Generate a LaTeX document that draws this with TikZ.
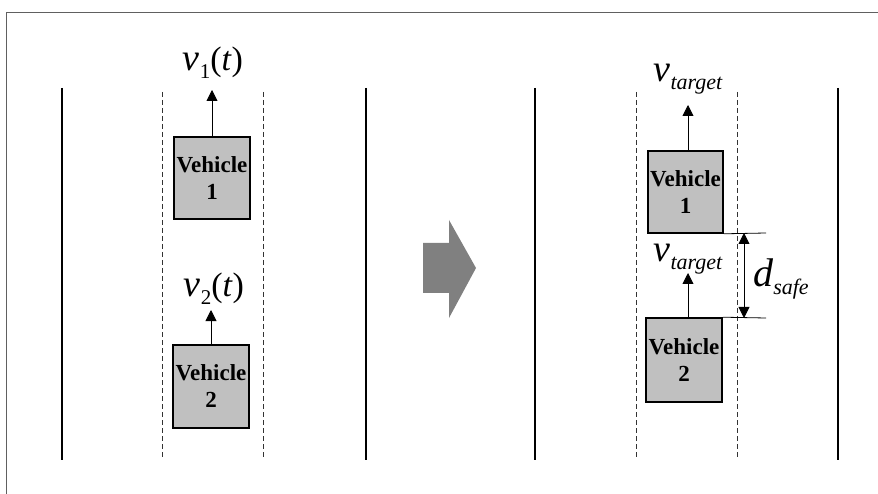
\documentclass[tikz,border=0pt]{standalone}
\usepackage{fontspec}
\setmainfont{Liberation Serif}
\usetikzlibrary{arrows.meta}
\definecolor{boxgray}{HTML}{C0C0C0}
\definecolor{biggray}{HTML}{808080}
\definecolor{framegray}{HTML}{606060}
\newcommand{\bigv}{{\fontsize{38}{38}\selectfont\itshape v}}
\newcommand{\subtxt}[1]{\raisebox{-8pt}{\fontsize{22}{22}\selectfont\itshape #1}}
\newcommand{\subnum}[1]{\raisebox{-8pt}{\fontsize{21}{21}\selectfont #1}}
\newcommand{\argt}{{\fontsize{34}{34}\selectfont(\textit{t})}}
\begin{document}
\begin{tikzpicture}[x=1pt,y=-1pt,
  vehicle/.style={draw=black,line width=1.6pt,fill=boxgray,align=center,
    font=\fontsize{23}{27}\selectfont\bfseries,inner sep=0pt},
  road/.style={line width=2.2pt,black},
  lane/.style={line width=0.6pt,dash pattern=on 5pt off 3pt,black!80},
  vel/.style={line width=0.9pt,-{Triangle[length=11pt,width=11pt]}},
  dim/.style={line width=0.9pt,{Triangle[length=11pt,width=11pt]}-{Triangle[length=11pt,width=11pt]}},
  ext/.style={line width=0.8pt},
  lbl/.style={inner sep=0pt,anchor=base}]
\useasboundingbox (0,0) rectangle (878,494);
% frame
\draw[framegray,line width=0.8pt] (878,12) -- (6,12) -- (6,494);
% roads
\foreach \x in {62,366,535,838} \draw[road] (\x,88) -- (\x,460);
\foreach \x in {162,263,636,737} \draw[lane] (\x,92) -- (\x,459);
% left scene
\node[vehicle,minimum width=76pt,minimum height=82pt] (a1) at (212,178) {Vehicle\\1};
\node[vehicle,minimum width=76pt,minimum height=83pt] (a2) at (211,386.5) {Vehicle\\2};
\coordinate (a1t) at (212,90);
\coordinate (a2t) at (211,310);
\draw[vel] (a1.north) -- (a1t);
\draw[vel] (a2.north) -- (a2t);
\node[lbl] (la1) at (213,71) {\bigv\subnum{1}\argt};
\node[lbl] (la2) at (214,297) {\bigv\subnum{2}\argt};
% big arrow
\fill[biggray] (423,243) -- (449,243) -- (449,220) -- (476,268) -- (449,318) -- (449,293) -- (423,293) -- cycle;
% right scene
\node[vehicle,minimum width=75pt,minimum height=82pt] (b1) at (685.5,192) {Vehicle\\1};
\node[vehicle,minimum width=76pt,minimum height=84pt] (b2) at (684,360) {Vehicle\\2};
\coordinate (b1t) at (688,105);
\coordinate (b2t) at (688,273);
\draw[vel] (b1.north -| b1t) -- (b1t);
\draw[vel] (b2.north -| b2t) -- (b2t);
\node[lbl] (lb1) at (688,82) {\bigv\subtxt{target}};
\node[lbl] (lb2) at (688,262) {\bigv\subtxt{target}};
% safe distance
\coordinate (e1) at (766,233);
\coordinate (e2) at (766,318);
\draw[ext] (b1.south east) -- (e1);
\draw[ext] (b2.north east) -- (e2);
\coordinate (d1) at (744,233);
\coordinate (d2) at (744,318);
\draw[dim] (d1) -- (d2);
\node[lbl] (ds) at (781,287) {{\fontsize{40}{40}\selectfont\itshape d}\subtxt{safe}};
\end{tikzpicture}
\end{document}
